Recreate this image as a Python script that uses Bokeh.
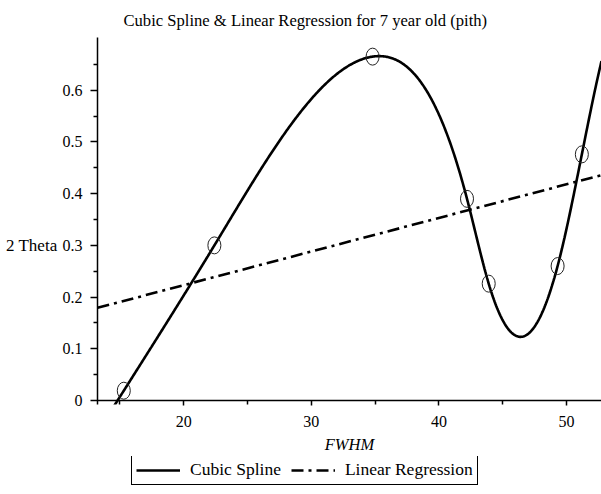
import numpy as np
from bokeh.plotting import figure
from bokeh.layouts import column
from bokeh.models import (Range1d, FixedTicker, Span, Legend, LegendItem,
                          ColumnDataSource, LinearAxis)
from bokeh.embed import file_html
from bokeh.resources import INLINE

# ---- data ----
fwhm = [15.3, 22.4, 34.8, 42.2, 43.9, 49.3, 51.2]
theta = [0.019, 0.300, 0.665, 0.390, 0.226, 0.260, 0.476]

x_major_ticks = [20, 30, 40, 50]
x_minor_ticks = [15, 25, 35, 45]
y_major_ticks = [0, 0.1, 0.2, 0.3, 0.4, 0.5, 0.6]
y_minor_ticks = [0.05, 0.15, 0.25, 0.35, 0.45, 0.55, 0.65]
y_tick_labels = {0: "0", 0.1: "0.1", 0.2: "0.2", 0.3: "0.3", 0.4: "0.4",
                 0.5: "0.5", 0.6: "0.6"}
x_view = (13.24, 52.74)
y_view = (-0.0077, 0.702)

title_text = "Cubic Spline & Linear Regression for 7 year old (pith)"
x_label = "FWHM"
y_label = "2 Theta"
y_label_at = [0.3]          # height (in data units) where the y label sits
series_names = ["Cubic Spline", "Linear Regression"]


def natural_spline(x, y):
    x = np.asarray(x, float)
    y = np.asarray(y, float)
    n = len(x)
    h = np.diff(x)
    A = np.zeros((n, n))
    b = np.zeros(n)
    A[0, 0] = 1.0
    A[-1, -1] = 1.0
    for i in range(1, n - 1):
        A[i, i - 1] = h[i - 1]
        A[i, i] = 2 * (h[i - 1] + h[i])
        A[i, i + 1] = h[i]
        b[i] = 3 * ((y[i + 1] - y[i]) / h[i] - (y[i] - y[i - 1]) / h[i - 1])
    c = np.linalg.solve(A, b)
    bc = (y[1:] - y[:-1]) / h - h * (2 * c[:-1] + c[1:]) / 3
    d = (c[1:] - c[:-1]) / (3 * h)

    def f(t):
        t = np.asarray(t, float)
        idx = np.clip(np.searchsorted(x, t) - 1, 0, n - 2)
        dx = t - x[idx]
        return y[idx] + bc[idx] * dx + c[idx] * dx ** 2 + d[idx] * dx ** 3
    return f


spl = natural_spline(fwhm, theta)
xs = np.linspace(x_view[0], x_view[1], 600)
spline_src = ColumnDataSource(dict(x=xs, y=spl(xs)))

slope, intercept = np.polyfit(fwhm, theta, 1)
xr = np.array(x_view)
reg_src = ColumnDataSource(dict(x=xr, y=intercept + slope * xr))
pts_src = ColumnDataSource(dict(x=fwhm, y=theta))

FONT = "Liberation Serif"
SPLINE_STYLE = dict(line_color="black", line_width=2.6)
REG_STYLE = dict(line_color="black", line_width=2.6, line_dash="12 5 3 5")

p = figure(width=601, height=456,
           x_range=Range1d(*x_view), y_range=Range1d(*y_view),
           output_backend="svg", toolbar_location=None,
           min_border_left=97, min_border_right=0,
           min_border_top=37, min_border_bottom=52)
p.outline_line_color = None
p.xgrid.visible = False
p.ygrid.visible = False
p.background_fill_color = "white"
p.border_fill_color = "white"

# title
p.title.text = title_text
p.title.text_font = FONT
p.title.text_font_size = "16.6px"
p.title.text_font_style = "normal"
p.title.text_color = "black"
p.title.align = "left"
p.title.offset = 26
p.title.standoff = 16

# x axis (its line is drawn at y = 0 by a span)
xa = p.xaxis[0]
xa.ticker = FixedTicker(ticks=x_major_ticks, minor_ticks=x_minor_ticks)
xa.axis_line_color = None
xa.major_tick_in = 4
xa.major_tick_out = 1
xa.minor_tick_in = 4
xa.minor_tick_out = 0
xa.major_tick_line_color = "black"
xa.minor_tick_line_color = "black"
xa.major_tick_line_width = 1.5
xa.minor_tick_line_width = 1.5
xa.major_label_text_font = FONT
xa.major_label_text_font_size = "16px"
xa.major_label_text_color = "black"
xa.major_label_standoff = 10
xa.axis_label = x_label
xa.axis_label_text_font = FONT
xa.axis_label_text_font_size = "16.5px"
xa.axis_label_text_font_style = "italic"
xa.axis_label_text_color = "black"
xa.axis_label_standoff = 5

p.add_layout(Span(location=0, dimension="width", line_color="black",
                  line_width=1.5))

# y axis
ya = p.yaxis[0]
ya.ticker = FixedTicker(ticks=y_major_ticks, minor_ticks=y_minor_ticks)
ya.major_label_overrides = y_tick_labels
ya.axis_line_color = "black"
ya.axis_line_width = 1.5
ya.major_tick_in = 0
ya.major_tick_out = 7
ya.minor_tick_in = 0
ya.minor_tick_out = 4
ya.major_tick_line_color = "black"
ya.minor_tick_line_color = "black"
ya.major_tick_line_width = 1.5
ya.minor_tick_line_width = 1.5
ya.major_label_text_font = FONT
ya.major_label_text_font_size = "16px"
ya.major_label_text_color = "black"
ya.major_label_standoff = 8

# horizontal "2 Theta" label, placed as the single label of an extra axis
ylab_axis = LinearAxis(ticker=FixedTicker(ticks=y_label_at, minor_ticks=[]),
                       major_label_overrides={y_label_at[0]: y_label})
ylab_axis.axis_line_color = None
ylab_axis.major_tick_line_color = None
ylab_axis.minor_tick_line_color = None
ylab_axis.major_tick_in = 0
ylab_axis.major_tick_out = 0
ylab_axis.major_label_text_font = FONT
ylab_axis.major_label_text_font_size = "17px"
ylab_axis.major_label_text_color = "black"
ylab_axis.major_label_standoff = 2
p.add_layout(ylab_axis, "left")

# series
r_spline = p.line("x", "y", source=spline_src, **SPLINE_STYLE)
r_reg = p.line("x", "y", source=reg_src, **REG_STYLE)
p.ellipse("x", "y", source=pts_src, width=13, height=17,
          width_units="screen", height_units="screen",
          fill_color=None, line_color="#222222", line_width=1)

# legend strip below the chart (its frame is aligned with the chart's frame)
q = figure(width=601, height=38, x_range=Range1d(0, 1), y_range=Range1d(0, 1),
           output_backend="svg", toolbar_location=None,
           x_axis_type=None, y_axis_type=None,
           min_border_left=0, min_border_right=0,
           min_border_top=0, min_border_bottom=0)
q.outline_line_color = None
q.xgrid.visible = False
q.ygrid.visible = False
# same series, out of this strip's view: only their legend glyphs show
l_spline = q.line("x", "y", source=spline_src, **SPLINE_STYLE)
l_reg = q.line("x", "y", source=reg_src, **REG_STYLE)

legend = Legend(items=[LegendItem(label=series_names[0], renderers=[l_spline]),
                       LegendItem(label=series_names[1], renderers=[l_reg])],
                location=(34, 9), orientation="horizontal")
legend.border_line_color = "black"
legend.border_line_width = 1.5
legend.border_line_alpha = 1
legend.background_fill_color = "white"
legend.background_fill_alpha = 1
legend.label_text_font = FONT
legend.label_text_font_size = "17.5px"
legend.label_text_color = "black"
legend.glyph_width = 44
legend.glyph_height = 20
legend.label_height = 20
legend.label_standoff = 10
legend.spacing = 10
legend.padding = 4
legend.margin = 0
q.add_layout(legend, "center")

layout = column(p, q, spacing=0)
open("out.html", "w").write(file_html(layout, INLINE))
